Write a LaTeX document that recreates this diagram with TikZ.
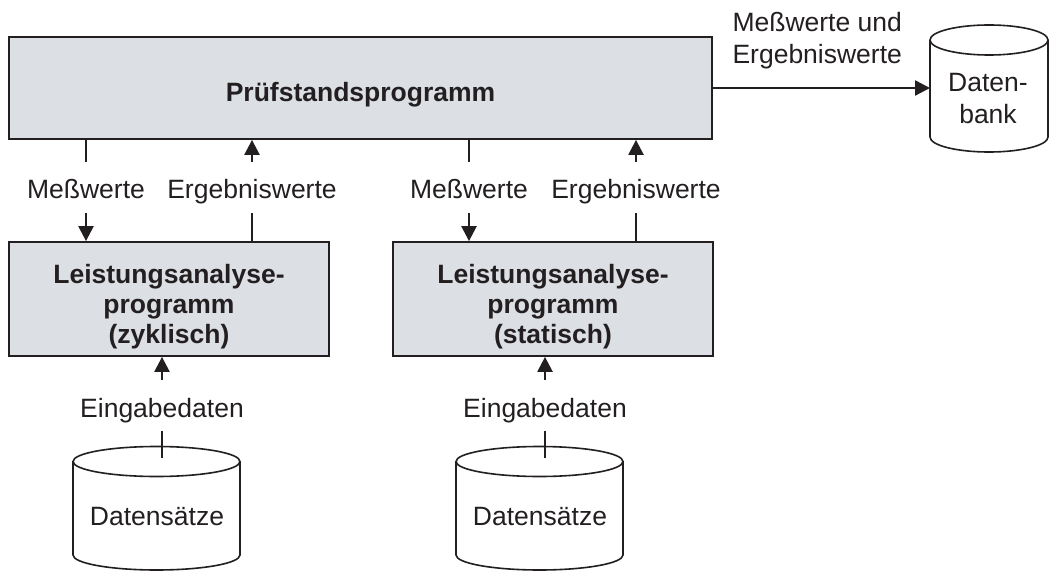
\documentclass[tikz,border=0pt]{standalone}
\usepackage{fontspec}
\setmainfont{Liberation Sans}
\usetikzlibrary{arrows.meta}
\definecolor{ink}{HTML}{231F20}
\definecolor{panel}{HTML}{DCDFE4}
\newcommand\figfont{\fontsize{26.5}{32}\selectfont}
% cylinder: centre x, top-face y, bottom-face y, x radius, y radius
\newcommand\drawdrum[5]{%
  \path[drum] (#1-#4,#2) -- (#1-#4,#3)
    arc[start angle=180,end angle=360,x radius=#4pt,y radius=#5pt] -- (#1+#4,#2);
  \draw[drum] (#1,#2) ellipse[x radius=#4pt,y radius=#5pt];}
\begin{document}
\begin{tikzpicture}[x=1pt,y=-1pt,
  every node/.style={text=ink,font=\figfont},
  box/.style={draw=ink,line width=1.8pt,fill=panel,inner sep=0pt,align=center,
    font=\fontsize{26.5}{30}\selectfont\bfseries},
  flow/.style={draw=ink,line width=2.4pt},
  arr/.style={flow,-{Triangle[length=15pt,width=15pt]}},
  lbl/.style={inner sep=0pt,text height=37pt,text depth=13.5pt,anchor=base},
  drum/.style={draw=ink,line width=1.6pt,fill=white}]
\useasboundingbox (0,0) rectangle (1049,572);

% program blocks
\node[box,minimum width=703pt,minimum height=102pt,text height=31pt,text depth=3pt]
  (pruef) at (360.5,88) {Prüfstandsprogramm};
\node[box,minimum width=320pt,minimum height=114pt,text height=94pt,text depth=6pt]
  (lz) at (169,299) {Leistungsanalyse-\\programm\\(zyklisch)};
\node[box,minimum width=320pt,minimum height=114pt,text height=94pt,text depth=6pt]
  (ls) at (553,299) {Leistungsanalyse-\\programm\\(statisch)};

% data stores
\drawdrum{989}{40}{137}{59}{15}
\drawdrum{156.5}{461.5}{555}{83.5}{15}
\drawdrum{539.5}{461.5}{555}{83.5}{15}
\coordinate (dbin) at (930,88);
\coordinate (dz) at (162,458);
\coordinate (ds) at (545,458);
\node[align=center] (dbt) at (988,99) {Daten-\\bank};
\node (dsz) at (157,517) {Datensätze};
\node (dss) at (540,517) {Datensätze};

% flow labels
\node[lbl] (mz) at (86,199) {Meßwerte};
\node[lbl] (ez) at (252,199) {Ergebniswerte};
\node[lbl] (ms) at (469,199) {Meßwerte};
\node[lbl] (es) at (636,199) {Ergebniswerte};
\node[lbl] (iz) at (162,417) {Eingabedaten};
\node[lbl] (is) at (545,417) {Eingabedaten};
\node[anchor=west,align=left] (mu) at (729,41) {Meßwerte und\\Ergebniswerte};

% flows between blocks
\draw[flow] (pruef.south -| mz) -- (mz.north);
\draw[arr] (mz.south) -- (mz.south |- lz.north);
\draw[arr] (ez.north) -- (ez.north |- pruef.south);
\draw[flow] (ez.south |- lz.north) -- (ez.south);
\draw[flow] (pruef.south -| ms) -- (ms.north);
\draw[arr] (ms.south) -- (ms.south |- ls.north);
\draw[arr] (es.north) -- (es.north |- pruef.south);
\draw[flow] (es.south |- ls.north) -- (es.south);
\draw[arr] (iz.north) -- (iz.north |- lz.south);
\draw[flow] (iz.south) -- (dz);
\draw[arr] (is.north) -- (is.north |- ls.south);
\draw[flow] (is.south) -- (ds);
\draw[arr] (pruef.east) -- (dbin);
\end{tikzpicture}
\end{document}
